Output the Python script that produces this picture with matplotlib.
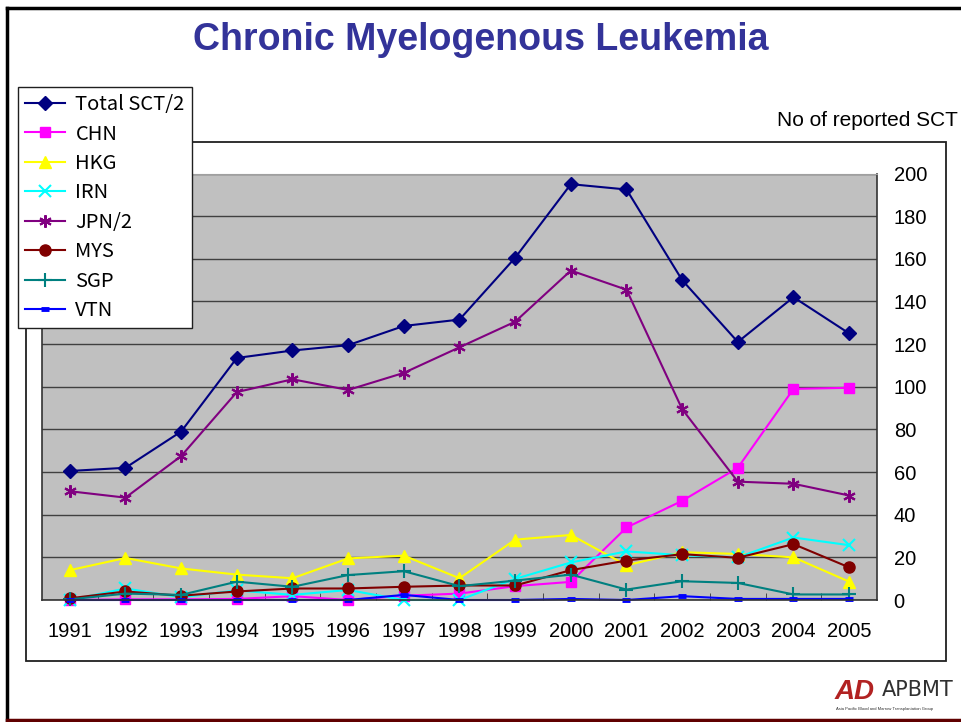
import matplotlib
matplotlib.use("Agg")
import matplotlib.pyplot as plt
from matplotlib.patches import Rectangle
from matplotlib.lines import Line2D

# data
years = [str(y) for y in range(1991, 2006)]
total_sct_2 = [60.5, 62, 79, 113.5, 117, 119.5, 128.5, 131.5, 160.5, 195, 192.5, 150, 121, 142, 125]
chn = [0, 0.3, 0.3, 0.5, 1.8, 0, 2, 3, 6.5, 8.5, 34, 46.5, 62, 99, 99.5]
hkg = [14, 19.7, 14.8, 11.9, 10.2, 19.5, 20.8, 10.2, 28.3, 30.5, 16.3, 22.4, 21.6, 20, 8.6]
irn = [0, 5.4, 1.3, 4.5, 2.4, 4.7, 0, 0, 9.9, 17.6, 22.8, 21, 20, 29.3, 25.7]
jpn_2 = [51, 48, 67.5, 97.5, 103.5, 98.5, 106.5, 118.5, 130.5, 154.5, 145.5, 89.5, 55.5, 54.5, 49]
mys = [0.8, 4, 2, 4, 5.4, 5.4, 6.2, 6.8, 6.8, 14, 18.5, 21.5, 19.8, 26.2, 15.3]
sgp = [0.3, 3, 2.4, 8.6, 6.2, 11.7, 13.5, 6.5, 9.1, 11.9, 4.9, 8.8, 8, 2.6, 2.6]
vtn = [0, 0, 0, 0, 0, 0, 2.4, 0, 0, 0.5, 0, 1.8, 0.5, 0.5, 0.5]

series = [
    ("Total SCT/2", total_sct_2, "#000080", "D", 7),
    ("CHN", chn, "#FF00FF", "s", 7),
    ("HKG", hkg, "#FFFF00", "^", 9),
    ("IRN", irn, "#00FFFF", "x", 8),
    ("JPN/2", jpn_2, "#800080", (6, 2, 0), 9),
    ("MYS", mys, "#800000", "o", 8),
    ("SGP", sgp, "#008080", "+", 10),
    ("VTN", vtn, "#0000FF", "_", 6),
]

plt.rcParams['font.family'] = ['Liberation Sans', 'DejaVu Sans']

W, H = 962, 722
fig = plt.figure(figsize=(W / 100, H / 100), dpi=100)
fig.patch.set_facecolor('white')

def fx(x):
    return x / W

def fy(y):
    return 1 - y / H

# outer frame
fig.add_artist(Line2D([fx(7), fx(7)], [fy(8), fy(720)], color='black', lw=2.5, zorder=-2))
fig.add_artist(Line2D([fx(7), 1.0], [fy(8), fy(8)], color='black', lw=2.5, zorder=-2))
fig.add_artist(Line2D([fx(7), 1.0], [fy(720), fy(720)], color='#600000', lw=2.5, zorder=-2))

# chart box
fig.add_artist(Rectangle((fx(26), fy(661)), fx(946) - fx(26), fy(142) - fy(661),
                         fill=False, edgecolor='#202020', lw=1.3, zorder=-1))

fig.text(fx(481), fy(40), "Chronic Myelogenous Leukemia", ha='center', va='center',
         fontsize=27, fontweight='bold', color='#333399')
fig.text(fx(958), fy(121), "No of reported SCT", ha='right', va='center', fontsize=15)

ax = fig.add_axes([fx(42), fy(600), fx(877) - fx(42), fy(173.5) - fy(600)])
ax.set_facecolor('#C0C0C0')

x = list(range(len(years)))
for name, vals, col, mk, ms in series:
    kw = dict(color=col, lw=1.5, marker=mk, markersize=ms, label=name, clip_on=False)
    if mk in ("x", "+", "_") or isinstance(mk, tuple):
        kw["markeredgewidth"] = 1.5
    if mk == "_":
        kw["markeredgewidth"] = 3.5
    ax.plot(x, vals, **kw)

ax.set_xlim(-0.5, len(years) - 0.5)
ax.set_ylim(0, 200)
ax.set_yticks(range(0, 201, 20))
ax.yaxis.tick_right()
ax.tick_params(axis='y', length=0, pad=12, labelsize=14.5)
ax.set_xticks(x)
ax.set_xticklabels(years)
ax.set_xticks([i + 0.5 for i in range(len(years) - 1)], minor=True)
ax.tick_params(axis='x', which='major', length=0, pad=16, labelsize=14.5)
ax.tick_params(axis='x', which='minor', direction='in', length=5, color='#333333')
ax.grid(axis='y', color='#404040', lw=1)
ax.set_axisbelow(True)
for s in ('left', 'right', 'bottom'):
    ax.spines[s].set_color('#333333')
    ax.spines[s].set_linewidth(1.2)
ax.spines['top'].set_color('#A0A0A0')

handles, labels = ax.get_legend_handles_labels()
leg = fig.legend(handles, labels, loc='upper left', bbox_to_anchor=(fx(18), fy(87)),
                 bbox_transform=fig.transFigure, borderaxespad=0, fancybox=False,
                 edgecolor='#202020', framealpha=1, handlelength=2.0, handletextpad=0.5,
                 labelspacing=0.42, borderpad=0.35,
                 prop={'family': ['Noto Sans CJK JP', 'DejaVu Sans'], 'size': 14.5})
leg.get_frame().set_linewidth(1.0)

# logo
fig.text(fx(855), fy(692), "AD", ha='center', va='center', fontsize=20, fontweight='bold',
         style='italic', color='#B22222')
fig.text(fx(918), fy(690), "APBMT", ha='center', va='center', fontsize=15,
         color='#303030', family='Liberation Sans Narrow')
fig.text(fx(885), fy(709), "Asia Pacific Blood and Marrow Transplantation Group",
         ha='center', va='center', fontsize=3, color='#303030')

fig.savefig("out.png", dpi=100)
